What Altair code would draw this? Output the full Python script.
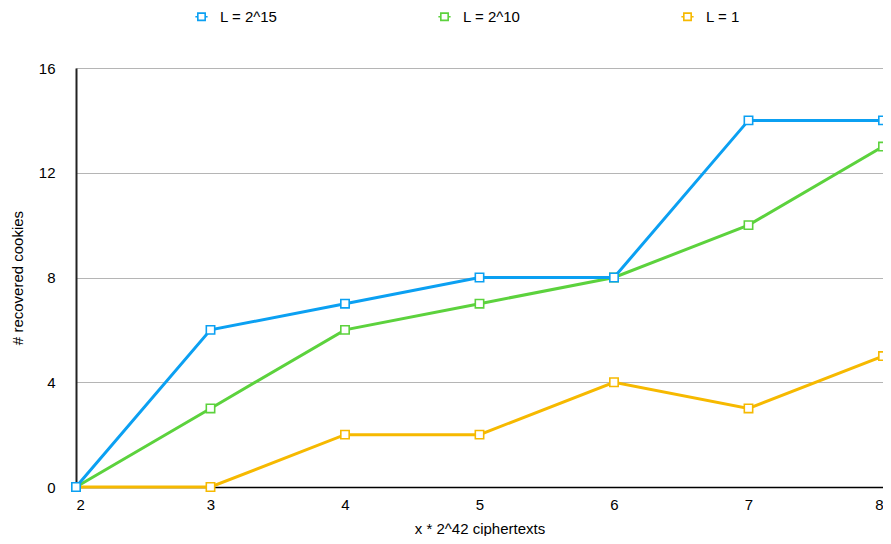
import altair as alt
import pandas as pd

x_vals = [2, 3, 4, 5, 6, 7, 8]
series_names = ["L = 2^15", "L = 2^10", "L = 1"]
s_2_15 = [0, 6, 7, 8, 8, 14, 14]
s_2_10 = [0, 3, 6, 7, 8, 10, 13]
s_1 = [0, 0, 2, 2, 4, 3, 5]
colors = ["#0ba0f2", "#5cd23d", "#f6b900"]
y_ticks = [0, 4, 8, 12, 16]

rows = []
for name, vals in zip(series_names, [s_2_15, s_2_10, s_1]):
    for xv, yv in zip(x_vals, vals):
        rows.append({"x": xv, "y": yv, "series": name})
df = pd.DataFrame(rows)

FONT = "Liberation Sans"
FS = 15

color = alt.Color(
    "series:N",
    scale=alt.Scale(domain=series_names, range=colors),
    legend=alt.Legend(
        title=None,
        orient="none",
        direction="horizontal",
        legendX=118,
        legendY=-59,
        padding=0,
        symbolType="M-1,0H-0.6M0.6,0H1M-0.6,-0.6H0.6V0.6H-0.6Z",
        symbolSize=150,
        symbolStrokeWidth=1.6,
        symbolFillColor="white",
        labelFontSize=FS,
        labelFont=FONT,
        labelColor="black",
        labelOffset=11,
        labelLimit=300,
        columnPadding=157,
    ),
)

xenc = alt.X(
    "x:Q",
    scale=alt.Scale(domain=[2, 8], nice=False, zero=False),
    axis=alt.Axis(
        values=x_vals, format="d", title="x * 2^42 ciphertexts",
        grid=False, ticks=False, domainColor="black", domainWidth=1.5,
        labelFontSize=FS, labelFont=FONT, labelColor="black", labelPadding=10,
        titleFontSize=FS, titleFont=FONT, titleColor="black", titleFontWeight="normal",
        titleY=41, titleBaseline="middle",
    ),
)
yenc = alt.Y(
    "y:Q",
    scale=alt.Scale(domain=[0, 16], nice=False),
    axis=alt.Axis(
        values=y_ticks, title="# recovered cookies",
        grid=True, gridColor="#b5b5b5", gridWidth=1.2, ticks=False,
        domainColor="#222222", domainWidth=2,
        labelFontSize=FS, labelFont=FONT, labelColor="black", labelPadding=21,
        labelBaseline="middle",
        titleFontSize=FS, titleFont=FONT, titleColor="black", titleFontWeight="normal",
        titleX=-59, titleY=209.5, titleAngle=-90, titleAlign="center", titleBaseline="middle",
    ),
)

layers = []
for name in reversed(series_names):
    base = alt.Chart(df).transform_filter(alt.datum.series == name)
    line = base.mark_line(strokeWidth=3).encode(x=xenc, y=yenc, color=color)
    pts = base.mark_point(shape="square", filled=True, fill="white", size=70, strokeWidth=1.6, opacity=1).encode(
        x=xenc, y=yenc, stroke=alt.Stroke("series:N", scale=alt.Scale(domain=series_names, range=colors), legend=None)
    )
    layers += [line, pts]

chart = alt.layer(*layers).properties(
    width=807, height=419,
    autosize=alt.AutoSizeParams(type="none"),
    padding={"left": 68, "top": 60, "right": 0, "bottom": 49},
).configure_view(stroke=None).configure(background="white")

chart.save("out.html", embed_options={"renderer": "svg", "actions": False})
